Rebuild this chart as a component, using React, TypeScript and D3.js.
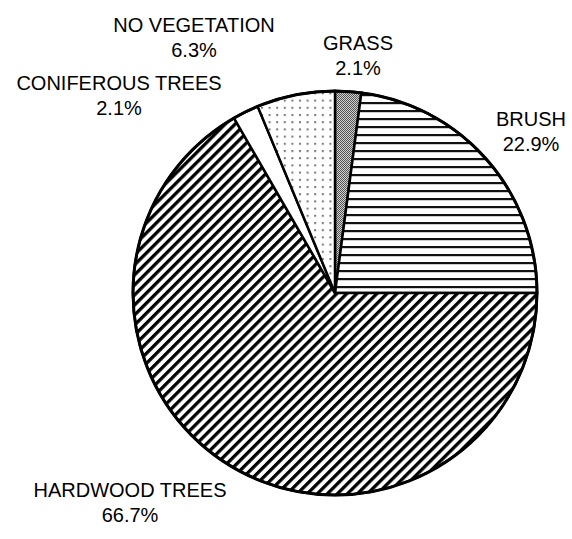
import React from "react";
import * as d3 from "d3";

const categories = ["GRASS", "BRUSH", "HARDWOOD TREES", "CONIFEROUS TREES", "NO VEGETATION"];
const counts = [1, 11, 32, 1, 3];
const patternIds = ["grass", "brush", "hardwood", "conifer", "noveg"];

// label layout (x centre, first baseline)
const labelLayout: Record<string, [number, number]> = {
  "GRASS": [358, 50],
  "BRUSH": [531, 126],
  "HARDWOOD TREES": [130, 497],
  "CONIFEROUS TREES": [119, 90],
  "NO VEGETATION": [194, 32],
};

const W = 572, H = 539;
const cx = 335, cy = 293, R = 202;

export default function App() {
  const total = d3.sum(counts);
  const data = categories.map((c, i) => ({ name: c, value: counts[i], pid: patternIds[i] }));
  const pie = d3.pie<any>().sort(null).value((d) => d.value).startAngle(0).endAngle(2 * Math.PI);
  const arcs = pie(data);
  const arc = d3.arc<any>().innerRadius(0).outerRadius(R);
  const fmt = d3.format(".1%");
  return (
    <svg width={W} height={H} style={{ position: "absolute", left: 0, top: 0, background: "#fff" }}>
      <defs>
        <pattern id="grass" width={2} height={2} patternUnits="userSpaceOnUse">
          <rect width={2} height={2} fill="#d0d0d0" />
          <rect x={0} y={0} width={1} height={1} fill="#555" />
          <rect x={1} y={1} width={1} height={1} fill="#555" />
        </pattern>
        <pattern id="brush" width={8} height={8} patternUnits="userSpaceOnUse" y={1}>
          <rect width={8} height={8} fill="#fff" />
          <rect x={0} y={0} width={8} height={2.2} fill="#111" />
        </pattern>
        <pattern id="hardwood" width={7.1} height={7.1} patternUnits="userSpaceOnUse" patternTransform="rotate(45)">
          <rect width={7.1} height={7.1} fill="#fff" />
          <rect x={0} y={0} width={3.3} height={7.1} fill="#000" />
        </pattern>
        <pattern id="conifer" width={4} height={4} patternUnits="userSpaceOnUse">
          <rect width={4} height={4} fill="#fff" />
        </pattern>
        <pattern id="noveg" width={7.6} height={7.2} patternUnits="userSpaceOnUse" x={2} y={1}>
          <rect width={7.6} height={7.2} fill="#fff" />
          <rect x={0} y={0} width={2} height={2} fill="#777" />
        </pattern>
      </defs>
      <g transform={`translate(${cx},${cy})`}>
        {arcs.map((a, i) => (
          <path key={i} d={arc(a) as string} fill={`url(#${a.data.pid})`} stroke="#000" strokeWidth={2.5} strokeLinejoin="miter" />
        ))}
        <circle r={R} fill="none" stroke="#000" strokeWidth={3} />
      </g>
      {data.map((d) => {
        const [x, y] = labelLayout[d.name];
        return (
          <text key={d.name} x={x} y={y} textAnchor="middle" fontFamily="Liberation Sans, Arial, sans-serif" fontSize={20} fill="#000">
            <tspan x={x}>{d.name}</tspan>
            <tspan x={x} dy={25}>{fmt(d.value / total)}</tspan>
          </text>
        );
      })}
    </svg>
  );
}
